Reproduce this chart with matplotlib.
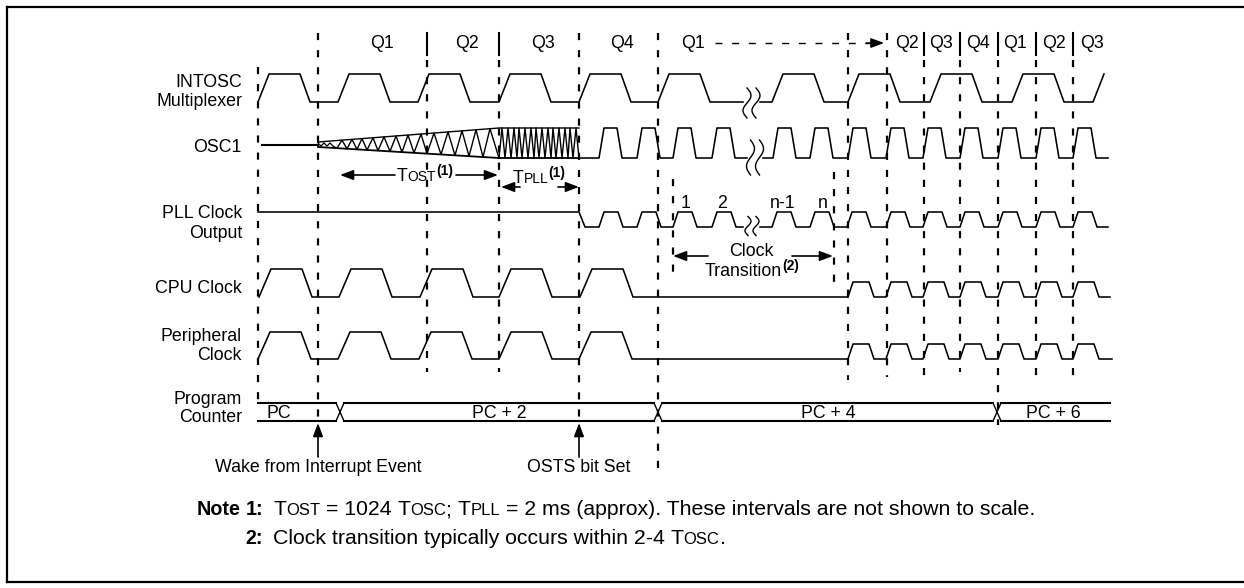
import numpy as np
import matplotlib
matplotlib.use("Agg")
import matplotlib.pyplot as plt

# ---------------- data (time axis in diagram units) ----------------
signal_names = [["INTOSC", "Multiplexer"], ["OSC1"], ["PLL Clock", "Output"],
                ["CPU Clock"], ["Peripheral", "Clock"], ["Program", "Counter"]]

q_labels = ["Q1", "Q2", "Q3", "Q4", "Q1", "Q2", "Q3", "Q4", "Q1", "Q2", "Q3"]

intosc_rises = [258, 338, 418, 499, 579, 658, 772, 848, 930, 1012, 1093]
osc1_fast_rises = [599, 637, 673, 712, 773, 810, 848, 886, 923, 960, 998, 1036, 1073]
pll_rises = [599, 637, 673, 712, 772, 810, 847, 886, 923, 960, 998, 1036, 1073]
cpu_slow_rises = [259, 339, 420, 499, 580]
cpu_fast_rises = [848, 886, 923, 960, 998, 1036, 1073]
periph_slow_rises = [258, 338, 419, 499, 579]
periph_fast_rises = [848, 886, 923, 960, 998, 1036, 1073]

osc1_wake = 318          # oscillator start (wake event)
osc1_tost_end = 499      # end of Tost
osc1_tpll_end = 579      # end of Tpll / OSTS set
tost_vertices = [337, 342, 347, 352, 357, 362, 367, 373, 378, 384, 390, 396, 402, 408,
                 414, 421, 427, 434, 441, 448, 455, 462, 469, 476, 483, 490, 499]
tpll_vertices = [499, 502, 505, 508, 511, 514, 517, 519, 522, 525, 528, 531, 534, 536,
                 539, 542, 545, 548, 551, 553, 556, 559, 562, 565, 568, 570, 573, 576, 579]
wiggle_vertices = [318, 321, 324, 327, 330, 333, 337]

clock_count_labels = ["1", "2", "n-1", "n"]
clock_count_x = [686, 722, 783, 823]

pc_values = ["PC", "PC + 2", "PC + 4", "PC + 6"]
pc_change_x = [340, 658, 997]
pc_span = (258, 1110)

event_labels = ["Wake from Interrupt Event", "OSTS bit Set"]
event_x = [318, 579]

vline_x = [258, 318, 427, 499, 579, 658, 673, 834, 848, 887, 924, 960, 998, 1036, 1073]
vline_top = [67, 33, 60, 60, 33, 33, 179, 172, 33, 33, 60, 60, 60, 60, 60]
vline_bot = [404, 421, 372, 372, 421, 470, 272, 285, 380, 377, 377, 372, 425, 377, 377]
q_sep_x = [427, 499, 924, 960, 998, 1036, 1073]

# ---------------- layout / style ----------------
W, H = 1244, 588
FONT = ["Liberation Sans", "DejaVu Sans"]
FS = 12.8
LW = 1.15

fig = plt.figure(figsize=(W / 100, H / 100), dpi=100)
ax = fig.add_axes([0, 0, 1, 1])
ax.set_xlim(0, W)
ax.set_ylim(H, 0)
ax.axis("off")

label_baselines = [[87, 106], [152], [218, 238], [293], [341, 360], [404, 422]]
q_label_x = [382, 467, 543, 622, 693, 907, 941, 978, 1015, 1054, 1092]


def measure(s, fs, fw="normal", fam=FONT):
    r = fig.canvas.get_renderer()
    t1 = ax.text(0, 0, "|" + s + "|", fontsize=fs, fontweight=fw, family=fam)
    t2 = ax.text(0, 0, "||", fontsize=fs, fontweight=fw, family=fam)
    w = t1.get_window_extent(r).width - t2.get_window_extent(r).width
    t1.remove()
    t2.remove()
    return w


def rich(x, y, parts, ha="left", fam=FONT):
    widths = [measure(s, fs, fw, fam) for s, fs, fw, dy in parts]
    tot = sum(widths)
    if ha == "center":
        x -= tot / 2
    elif ha == "right":
        x -= tot
    for (s, fs, fw, dy), w in zip(parts, widths):
        if s.strip():
            ax.text(x, y + dy, s, fontsize=fs, fontweight=fw, family=fam,
                    ha="left", va="baseline")
        x += w


def trapezoid(rises, tr, th, tf, lo, hi, end=None, gaps=()):
    xs, ys = [], []
    prev_end = None
    for i, r in enumerate(rises):
        for g0, g1 in gaps:
            if prev_end is not None and prev_end <= g0 and g1 <= r:
                xs += [g0, np.nan, g1]
                ys += [lo, np.nan, lo]
        xs += [r, r + tr]
        ys += [lo, hi]
        if i == len(rises) - 1 and end is None:
            return xs, ys
        xs += [r + tr + th, r + tr + th + tf]
        ys += [hi, lo]
        prev_end = r + tr + th + tf
    xs.append(end)
    ys.append(lo)
    return xs, ys


def squiggle(xc, yc, h, w=4.0, sep=9):
    t = np.linspace(0, 1, 60)
    for k in (-sep / 2, sep / 2):
        ax.plot(xc + k + w * np.sin(2 * np.pi * t), yc - h / 2 + h * t,
                color="k", lw=1.0)


def arrow(x0, y0, x1, y1, lw=1.2):
    ax.annotate("", xy=(x1, y1), xytext=(x0, y0),
                arrowprops=dict(arrowstyle="-|>,head_length=0.8,head_width=0.3",
                                color="k", lw=lw, shrinkA=0, shrinkB=0,
                                mutation_scale=10))


# frame
ax.plot([6.7, W], [6.7, 6.7], color="k", lw=1.6)
ax.plot([6.7, 6.7], [6.7, 582], color="k", lw=1.6)
ax.plot([6.7, W], [582, 582], color="k", lw=1.6)

# signal labels
for names, bls in zip(signal_names, label_baselines):
    for n, b in zip(names, bls):
        ax.text(242, b, n, fontsize=FS, family=FONT, ha="right", va="baseline")

# Q labels
for q, x in zip(q_labels, q_label_x):
    ax.text(x, 43, q, fontsize=FS, family=FONT, ha="center", va="center")
for x in q_sep_x:
    ax.plot([x, x], [33, 55], color="k", lw=1.5)
# dashed "Q1 ---->" arrow
ax.plot([715, 872], [43, 43], color="k", lw=1.0, dashes=(5, 7))
arrow(866, 43, 884, 43, lw=1.0)

# vertical dashed lines
for x, t, b in zip(vline_x, vline_top, vline_bot):
    ax.plot([x, x], [t, b], color="k", lw=1.6, dashes=(3.2, 4.5))

# INTOSC
xs, ys = trapezoid(intosc_rises, 11, 31, 10, 102, 74, end=None, gaps=[(743, 760)])
ax.plot(xs, ys, color="k", lw=LW)
squiggle(751.5, 103, 30)

# OSC1
ax.plot([262, osc1_wake], [144.5, 144.5], color="k", lw=1.5)
up = lambda x: np.interp(x, [osc1_wake, osc1_tost_end], [142, 128])
dn = lambda x: np.interp(x, [osc1_wake, osc1_tost_end], [147, 158])
ax.plot([osc1_wake, osc1_tost_end, osc1_tpll_end], [142, 128, 128], color="k", lw=1.0)
ax.plot([osc1_wake, osc1_tost_end, osc1_tpll_end], [147, 158, 158], color="k", lw=1.3)
wy = [144.5 + (1.6 if i % 2 else -1.6) for i in range(len(wiggle_vertices))]
wy[-1] = dn(wiggle_vertices[-1])
ax.plot(wiggle_vertices, wy, color="k", lw=0.9)
ty = [dn(x) if i % 2 == 0 else up(x) for i, x in enumerate(tost_vertices)]
ax.plot(tost_vertices, ty, color="k", lw=1.0)
py = [158 if i % 2 == 0 else 128 for i in range(len(tpll_vertices))]
ax.plot(tpll_vertices, py, color="k", lw=1.0)
xs, ys = trapezoid(osc1_fast_rises, 5, 13, 5, 158, 128, end=1108, gaps=[(747, 763)])
ax.plot([osc1_tpll_end] + xs, [158] + ys, color="k", lw=LW)
squiggle(755, 157.5, 35)

# PLL clock output
xs, ys = trapezoid(pll_rises, 5, 14, 5, 227, 212, end=1108, gaps=[(743, 760)])
ax.plot([258, osc1_tpll_end, osc1_tpll_end + 6] + xs, [212, 212, 227] + ys,
        color="k", lw=LW)
squiggle(752, 226, 19, w=3.0, sep=8)
for lab, x in zip(clock_count_labels, clock_count_x):
    ax.text(x, 208, lab, fontsize=FS, family=FONT, ha="center", va="baseline")

# CPU clock
xs, ys = trapezoid(cpu_slow_rises, 12, 31, 10, 297, 269, end=cpu_fast_rises[0])
ax.plot(xs, ys, color="k", lw=LW)
xs, ys = trapezoid(cpu_fast_rises, 5, 16, 5, 297, 282, end=1110)
ax.plot(xs, ys, color="k", lw=LW)

# Peripheral clock
xs, ys = trapezoid(periph_slow_rises, 12, 31, 10, 359, 332, end=periph_fast_rises[0])
ax.plot(xs, ys, color="k", lw=LW)
xs, ys = trapezoid(periph_fast_rises, 5, 16, 5, 359, 344, end=1112)
ax.plot(xs, ys, color="k", lw=LW)

# Program counter bus
btop, bbot, hx = 403, 421, 4
edges = [pc_span[0]] + pc_change_x + [pc_span[1]]
for i in range(len(edges) - 1):
    x0 = edges[i] + (hx if i > 0 else 0)
    x1 = edges[i + 1] - (hx if i < len(edges) - 2 else 0)
    ax.plot([x0, x1], [btop, btop], color="k", lw=1.5)
    ax.plot([x0, x1], [bbot, bbot], color="k", lw=1.5)
for x in pc_change_x:
    ax.plot([x - hx, x + hx], [btop, bbot], color="k", lw=1.0)
    ax.plot([x - hx, x + hx], [bbot, btop], color="k", lw=1.0)
pc_text_x = [279, 499, 828, 1053]
for v, x in zip(pc_values, pc_text_x):
    ax.text(x, 418, v, fontsize=FS, family=FONT, ha="center", va="baseline")

# event arrows
for lab, x in zip(event_labels, event_x):
    arrow(x, 457, x, 423)
    ax.text(x, 472, lab, fontsize=FS, family=FONT, ha="center", va="baseline")

# Tost / Tpll annotations
arrow(395, 175, 340, 175)
arrow(456, 175, 498, 175)
rich(397, 181, [("T", FS, "normal", 0), ("OST", 10, "normal", 0), ("(1)", 10, "bold", -6)])
rich(513, 183, [("T", FS, "normal", 0), ("PLL", 10, "normal", 0), ("(1)", 10, "bold", -6)])
arrow(520, 187, 501, 187)
arrow(558, 187, 579, 187)

# Clock transition annotation
ax.text(751, 256, "Clock", fontsize=FS, family=FONT, ha="center", va="baseline")
rich(705, 276, [("Transition", FS, "normal", 0), ("(2)", 10, "bold", -6)])
arrow(708, 256, 673, 256)
arrow(792, 256, 833, 256)

# notes
NF = 15.3
NB = 14.2
sc = 12
ax.text(240, 515, "Note", fontsize=NB, fontweight="bold", family=FONT, ha="right", va="baseline")
ax.text(263, 515, "1:", fontsize=NB, fontweight="bold", family=FONT, ha="right", va="baseline")
ax.text(263, 544, "2:", fontsize=NB, fontweight="bold", family=FONT, ha="right", va="baseline")
rich(273, 515, [("T", NF, "normal", 0), ("OST", sc, "normal", 0), (" ", NF, "normal", 0),
                ("= 1024", NF, "normal", 0), (" ", NF, "normal", 0),
                ("T", NF, "normal", 0), ("OSC", sc, "normal", 0), ("; ", NF, "normal", 0),
                ("T", NF, "normal", 0), ("PLL", sc, "normal", 0), (" ", NF, "normal", 0),
                ("= 2 ms (approx). These intervals are not shown to scale.", NF, "normal", 0)])
rich(273, 544, [("Clock transition typically occurs within 2-4", NF, "normal", 0),
                (" ", NF, "normal", 0), ("T", NF, "normal", 0), ("OSC", sc, "normal", 0),
                (".", NF, "normal", 0)])

fig.savefig("out.png", dpi=100)
